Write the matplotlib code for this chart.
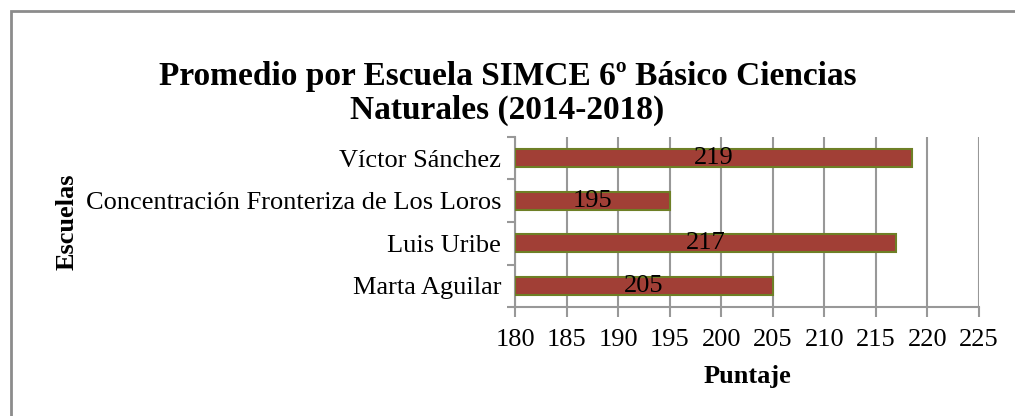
import matplotlib
matplotlib.use("Agg")
from matplotlib import pyplot as plt
from matplotlib.patches import Rectangle

escuelas = ["Marta Aguilar", "Luis Uribe",
            "Concentración Fronteriza de Los Loros", "Víctor Sánchez"]
puntajes = [205, 217, 195, 218.5]
etiquetas = ["205", "217", "195", "219"]
ticks_x = [180, 185, 190, 195, 200, 205, 210, 215, 220, 225]

plt.rcParams["font.family"] = ["Liberation Serif", "DejaVu Serif"]

fig = plt.figure(figsize=(10.15, 4.16), dpi=100)
ax = fig.add_axes([0.5074, 0.262, 0.4571, 0.4087])

gris = "#989898"
pos = list(range(len(escuelas)))
ax.barh(pos, [p - 180 for p in puntajes], left=180, height=0.42,
        color="#A13F36", edgecolor="#6E7F26", linewidth=1.5, zorder=3)
for y, p, t in zip(pos, puntajes, etiquetas):
    ax.text((180 + p) / 2, y, t, ha="center", va="center",
            fontsize=19, color="black", zorder=4)

ax.set_xlim(180, 225)
ax.set_ylim(-0.5, 3.5)
ax.set_xticks(ticks_x)
ax.set_yticks(pos)
ax.set_yticklabels(escuelas)
ax.set_yticks([-0.5, 0.5, 1.5, 2.5, 3.5], minor=True)
ax.tick_params(axis="y", which="major", length=0, pad=10, labelsize=19)
ax.tick_params(axis="y", which="minor", length=6, width=1.5, color=gris, direction="out")
ax.tick_params(axis="x", length=7, width=1.5, color=gris, direction="out",
               pad=9, labelsize=19)
ax.grid(axis="x", color=gris, linewidth=1.5, zorder=0)
for s in ["top", "right"]:
    ax.spines[s].set_visible(False)
for s in ["left", "bottom"]:
    ax.spines[s].set_color(gris)
    ax.spines[s].set_linewidth(1.5)

ax.set_xlabel("Puntaje", fontsize=19, fontweight="bold", labelpad=10)
ax.set_ylabel("Escuelas", fontsize=19, fontweight="bold")
ax.yaxis.set_label_coords(-0.94, 0.5)

fig.text(0.5, 0.775, "Promedio por Escuela SIMCE 6º Básico Ciencias\nNaturales (2014-2018)",
         ha="center", va="center", fontsize=24, fontweight="bold",
         linespacing=1.1)

fig.patches.append(Rectangle((11 / 1015, -0.1), 1.2, (416 - 11) / 416 + 0.1,
                             transform=fig.transFigure, fill=False,
                             edgecolor="#8c8c8c", linewidth=2))

fig.savefig("out.png", dpi=100)
